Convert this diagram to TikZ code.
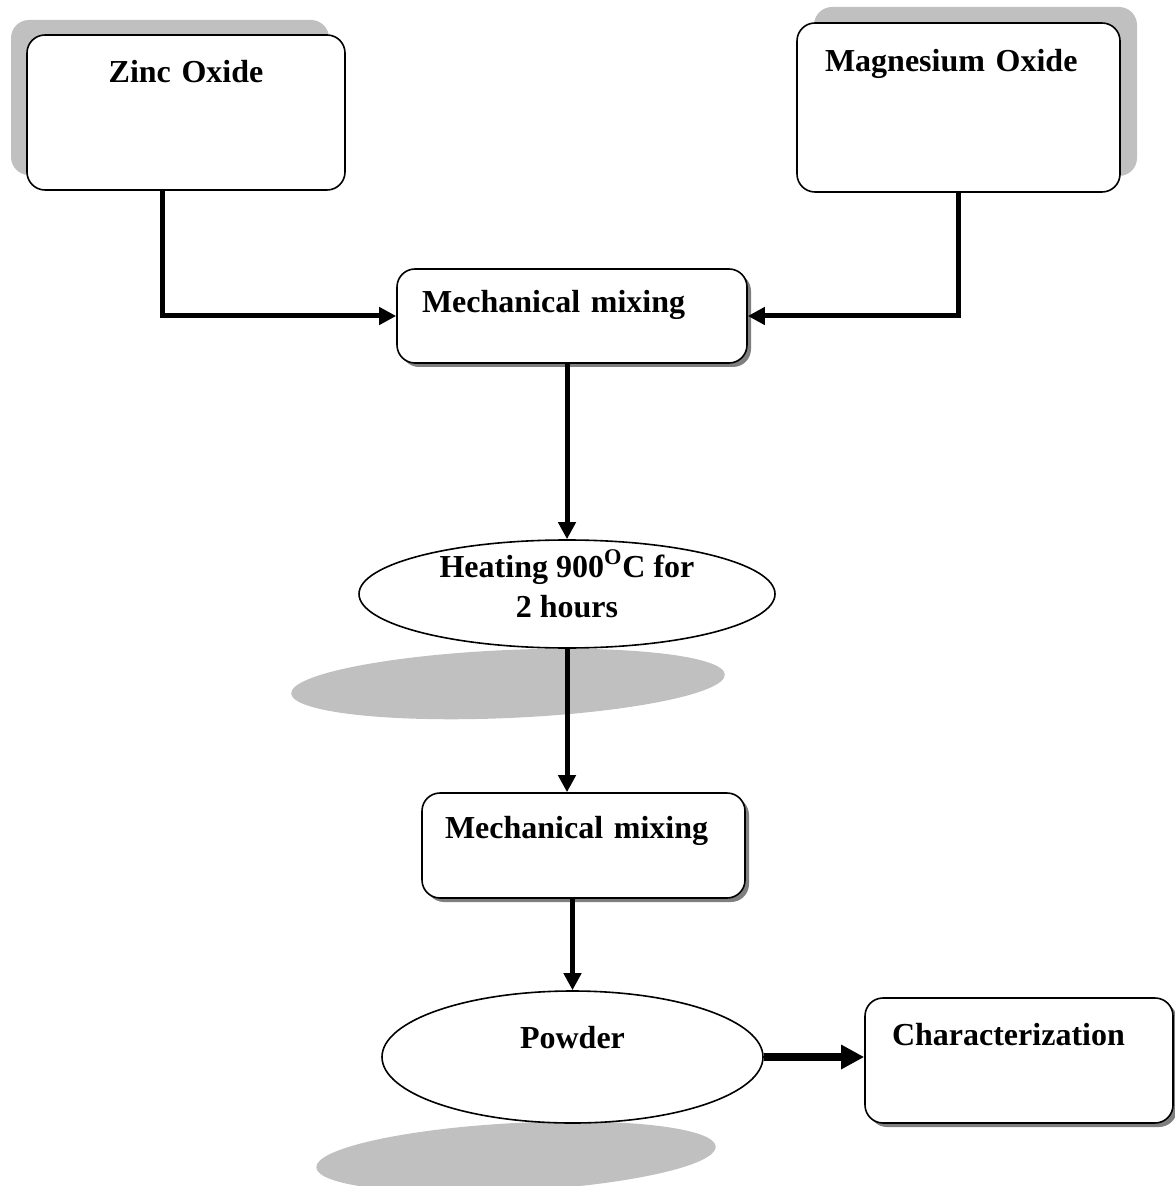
\documentclass[tikz,border=0pt]{standalone}
\usepackage{fontspec}
\setmainfont{Liberation Serif}
\usetikzlibrary{arrows.meta,shapes.geometric,shadows}

\definecolor{shadowgray}{HTML}{C0C0C0}
\definecolor{edgegray}{HTML}{7F7F7F}

\tikzset{
  txt/.style={font=\bfseries\fontsize{16}{20}\selectfont},
  stepbox/.style={txt, draw=black, line width=0.8pt, fill=white, rounded corners=9pt,
    inner ysep=0pt, align=left},
  smallshadow/.style={drop shadow={shadow xshift=2pt, shadow yshift=-2pt, fill=edgegray, opacity=1}},
  stepoval/.style={txt, ellipse, draw=black, line width=0.8pt, fill=white, inner sep=0pt, align=center},
  flow/.style={line width=2.5pt, -{Triangle[length=8.5pt,width=8.5pt]}},
  bigflow/.style={line width=4pt, -{Triangle[length=11.5pt,width=11.5pt]}},
}

\begin{document}
\begin{tikzpicture}[x=0.5pt, y=-0.5pt]
  \useasboundingbox (0,0) rectangle (1174,1186);

  \fill[shadowgray, rotate around={2.5:(508,684)}] (508,684) ellipse [x radius=108.5pt, y radius=17pt];
  \fill[shadowgray, rotate around={3:(516,1157)}] (516,1157) ellipse [x radius=100pt, y radius=17pt];

  \node[stepbox, align=center, inner xsep=0pt, text width=159pt, text height=24pt, text depth=53.5pt,
    drop shadow={shadow xshift=-8pt, shadow yshift=7.5pt, fill=shadowgray, opacity=1}]
    (zinc) at (186,112.5) {Zinc Oxide};
  \node[stepbox, inner xsep=14pt, text width=133.5pt, text height=24.5pt, text depth=60pt,
    drop shadow={shadow xshift=8.5pt, shadow yshift=8pt, fill=shadowgray, opacity=1}]
    (mgo) at (958.5,107.5) {Magnesium Oxide};

  \node[stepbox, smallshadow, inner xsep=12.5pt, text width=150pt, text height=22pt, text depth=25pt]
    (mix1) at (572,316) {Mechanical mixing};

  \node[stepoval, minimum width=208pt, minimum height=54pt, text height=30.5pt, text depth=7.5pt]
    (heat) at (567,594) {Heating 900\textsuperscript{O}C for\\2 hours};

  \node[stepbox, smallshadow, inner xsep=11.5pt, text width=138.5pt, text height=22.5pt, text depth=30pt]
    (mix2) at (583.5,845.5) {Mechanical mixing};

  \node[stepoval, minimum width=190.5pt, minimum height=66pt, text height=12pt, text depth=21pt]
    (powder) at (572.5,1057) {Powder};

  \node[stepbox, smallshadow, inner xsep=13.5pt, text width=127pt, text height=23.5pt, text depth=39pt]
    (char) at (1019,1060.5) {Characterization};

  \draw[flow] ([xshift=-12pt]zinc.south) |- (mix1.west);
  \draw[flow] (mgo.south) |- (mix1.east);
  \draw[flow] (mix1.south -| heat.north) -- (heat.north);
  \draw[flow] (heat.south) -- (heat.south |- mix2.north);
  \draw[flow] (powder.north |- mix2.south) -- (powder.north);
  \draw[bigflow] (powder.east) -- (powder.east -| char.west);
\end{tikzpicture}
\end{document}
